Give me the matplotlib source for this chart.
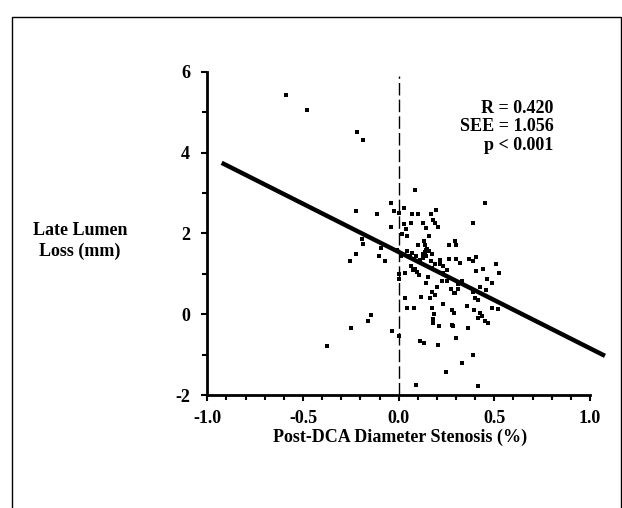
#!/usr/bin/env python3

import matplotlib
matplotlib.use('Agg')
import matplotlib.pyplot as plt
import numpy as np
from matplotlib.patches import Rectangle


# post-DCA diameter stenosis (fraction) and late lumen loss (mm)
stenosis = np.array([
	-0.59, -0.477, -0.22, -0.188, 0.087, 0.449, -0.04, -0.225, -0.024, 0.003,
	0.03, 0.068, 0.099, 0.171, 0.195, -0.113, -0.042, 0.03, 0.063, 0.038,
	0.125, 0.145, 0.181, 0.19, 0.204, 0.387, 0.019, 0.045, 0.157, 0.134,
	-0.19, -0.185, 0.103, 0.136, 0.263, 0.3, 0.295, -0.092, -0.225, -0.105,
	-0.253, -0.071, -0.01, 0.01, 0.042, 0.07, 0.09, 0.125, 0.139, 0.157,
	0.145, 0.111, 0.169, 0.192, 0.172, 0.216, 0.261, 0.3, 0.32, 0.369,
	0.404, 0.387, 0.509, 0.523, 0.063, 0.035, 0.0, 0.003, 0.077, 0.094,
	0.108, 0.233, 0.23, 0.254, 0.225, 0.251, 0.153, 0.143, 0.199, 0.329,
	0.312, 0.439, 0.404, 0.46, 0.486, 0.425, 0.456, 0.274, 0.289, 0.31,
	0.174, 0.188, 0.164, 0.117, 0.035, 0.387, 0.4, 0.413, 0.042, 0.082,
	0.174, 0.23, 0.355, 0.277, 0.289, 0.394, 0.425, 0.434, 0.416, 0.486,
	0.519, 0.449, 0.469, 0.186, 0.181, 0.181, 0.213, 0.279, 0.286, 0.364,
	0.298, -0.145, -0.16, -0.249, -0.035, 0.0, -0.376, 0.111, 0.132, 0.207,
	0.387, 0.333, 0.247, 0.089, 0.413, 0.143, 0.176, 0.215, 0.294, 0.275,
	0.085, 0.057, 0.148, 0.128,
])
lumen_loss = np.array([
	5.43, 5.06, 4.50, 4.30, 3.07, 2.76, 2.74, 2.55, 2.55, 2.51,
	2.62, 2.49, 2.49, 2.49, 2.59, 2.47, 2.16, 2.24, 2.26, 2.10,
	2.25, 2.14, 2.33, 2.26, 2.16, 2.26, 1.98, 1.93, 1.93, 1.81,
	1.85, 1.74, 1.70, 1.70, 1.70, 1.71, 1.81, 1.63, 1.48, 1.44,
	1.32, 1.32, 1.60, 1.44, 1.56, 1.52, 1.44, 1.48, 1.54, 1.56,
	1.44, 1.33, 1.32, 1.23, 1.15, 1.34, 1.36, 1.37, 1.26, 1.37,
	1.42, 1.32, 1.23, 1.03, 1.19, 1.03, 0.99, 0.86, 1.09, 1.05,
	0.96, 1.19, 1.03, 1.09, 0.82, 0.82, 0.91, 0.77, 0.68, 0.82,
	0.74, 1.11, 1.08, 0.86, 0.77, 0.68, 0.60, 0.63, 0.53, 0.62,
	0.55, 0.47, 0.39, 0.43, 0.40, 0.55, 0.39, 0.35, 0.16, 0.15,
	0.16, 0.26, 0.21, 0.10, 0.04, 0.11, 0.04, -0.04, -0.09, 0.16,
	0.12, -0.16, -0.22, 0.00, -0.11, -0.21, -0.29, -0.26, -0.29, -0.35,
	-0.58, -0.02, -0.18, -0.34, -0.42, -0.53, -0.78, -0.66, -0.72, -0.75,
	-1.01, -1.21, -1.42, -1.74, -1.77, 1.59, 1.50, 1.25, 0.52, 0.62,
	1.12, 1.45, 1.62, 1.40,
])

# regression line as printed
fit_x = [-0.925, 1.078]
fit_slope = -2.385
fit_intercept = 1.54

stats_text = "R = 0.420\nSEE = 1.056\np < 0.001"

xticks = [-1.0, -0.5, 0.0, 0.5, 1.0]
yticks = [-2, 0, 2, 4, 6]


if __name__ == '__main__':

	plt.rcParams['font.family'] = ['Liberation Serif', 'DejaVu Serif']
	plt.rcParams['font.weight'] = 'bold'
	plt.rcParams['axes.unicode_minus'] = False

	fig = plt.figure(figsize=(6.22, 5.08), dpi=100)
	ax = fig.add_axes([0.3333, 0.2224, 0.6153, 0.6364])

	# outer frame of the panel (bottom edge cut off)
	fig.patches.append(Rectangle((12 / 622, -0.05), (620.5 - 12) / 622, 1.05 - 17 / 508,
		transform=fig.transFigure, fill=False, edgecolor='black', linewidth=1.0))

	ax.plot(stenosis, lumen_loss, 's', color='black', markersize=3.4, markeredgewidth=0)

	fx = np.array(fit_x)
	ax.plot(fx, fit_intercept + fit_slope * fx, '-', color='black', linewidth=3.2,
		clip_on=False, solid_capstyle='butt')

	ax.plot([0, 0], [-2, 5.9], color='black', linewidth=1.0, dashes=(9, 3))

	ax.set_xlim(-1.0, 1.0)
	ax.set_ylim(-2, 6)
	ax.set_xticks(xticks)
	ax.set_xticklabels([f"{v:.1f}" for v in xticks])
	ax.set_yticks(yticks)
	ax.set_xticks(np.arange(-1.0, 1.01, 0.1), minor=True)
	ax.set_yticks([-1, 1, 3, 5], minor=True)

	for side in ['top', 'right']:
		ax.spines[side].set_visible(False)
	for side in ['left', 'bottom']:
		ax.spines[side].set_linewidth(2.0)

	ax.tick_params(which='major', direction='out', length=4.5, width=1.5, labelsize=13, pad=6)
	ax.tick_params(which='minor', direction='out', length=3.5, width=1.5)
	ax.tick_params(axis='y', which='major', pad=8)

	ax.text(0.81, 5.3, stats_text, ha='right', va='top', fontsize=13,
		fontweight='bold', linespacing=1.1)

	fig.text(80 / 622, 1 - 241 / 508, "Late Lumen\nLoss (mm)", ha='center', va='center',
		fontsize=13, fontweight='bold', linespacing=1.3)
	fig.text(400 / 622, 1 - 437 / 508, "Post-DCA Diameter Stenosis (%)", ha='center',
		va='center', fontsize=13, fontweight='bold')

	fig.savefig('out.png', dpi=100)
